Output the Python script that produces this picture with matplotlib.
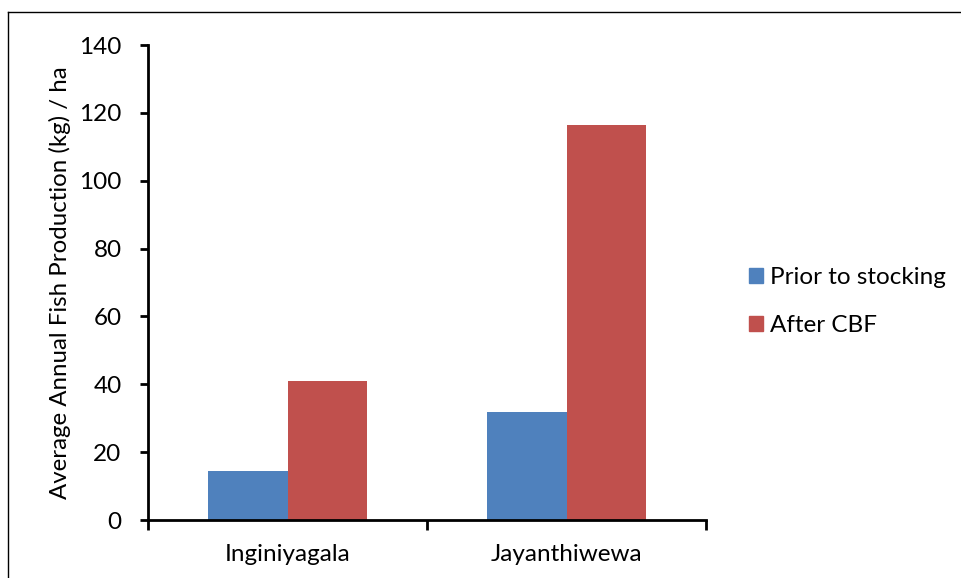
import numpy as np
import matplotlib
matplotlib.use('Agg')
import matplotlib.pyplot as plt
from matplotlib.lines import Line2D
from matplotlib.patches import Patch

# Data
sites = ['Inginiyagala', 'Jayanthiwewa']
prior = [14.4, 31.8]
after_cbf = [40.9, 116.4]

plt.rcParams['font.family'] = ['Lato', 'DejaVu Sans']

fig = plt.figure(figsize=(9.61, 5.78), dpi=100)
ax = fig.add_axes([0.154, 0.1003, 0.5807, 0.8218])

x = np.arange(len(sites)) + 0.5
w = 0.285
ax.bar(x - w / 2, prior, w, color='#4F81BD', label='Prior to stocking')
ax.bar(x + w / 2, after_cbf, w, color='#C0504D', label='After CBF')

ax.set_xlim(0, 2)
ax.set_ylim(0, 140)
ax.set_yticks(range(0, 141, 20))
ax.set_xticks([0, 1, 2])
ax.set_xticklabels([])
ax.set_xticks(x, minor=True)
ax.set_xticklabels(sites, minor=True)
ax.tick_params(axis='x', which='minor', length=0, pad=17, labelsize=17.5)
ax.tick_params(axis='x', which='major', length=7, width=2, direction='out')
ax.tick_params(axis='y', length=6, width=2, labelsize=17.5, pad=13)

for s in ['top', 'right']:
    ax.spines[s].set_visible(False)
for s in ['left', 'bottom']:
    ax.spines[s].set_linewidth(2)

ax.set_ylabel('Average Annual Fish Production (kg) / ha', fontsize=17.3, labelpad=6)

handles = [Patch(color='#4F81BD'), Patch(color='#C0504D')]
fig.legend(handles, ['Prior to stocking', 'After CBF'], loc='center left',
           bbox_to_anchor=(0.757, 0.478), frameon=False, fontsize=17.5,
           handlelength=0.55, handleheight=0.55, handletextpad=0.3,
           labelspacing=1.1)

# outer chart border (top and left visible)
fig.add_artist(Line2D([0.0085, 1.0], [0.979, 0.979], color='black', lw=1))
fig.add_artist(Line2D([0.0085, 0.0085], [0.0, 0.979], color='black', lw=1))

fig.savefig('out.png', dpi=100)
